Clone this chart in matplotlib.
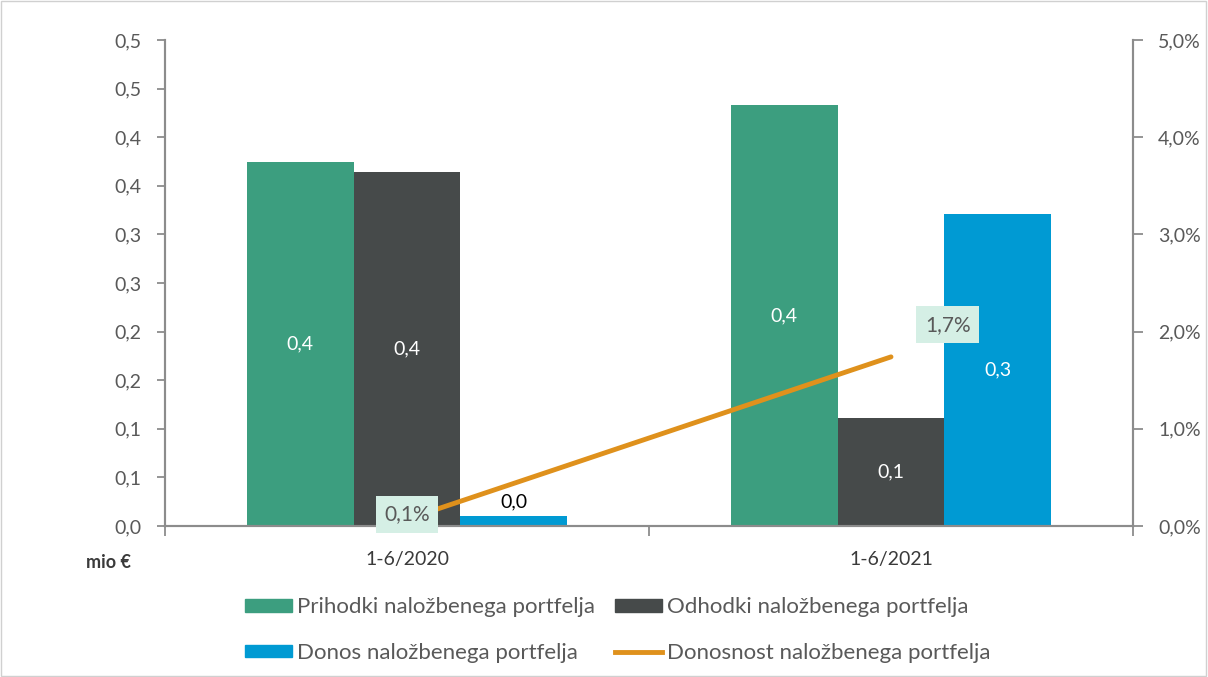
import matplotlib
matplotlib.use("Agg")
import matplotlib.pyplot as plt
from matplotlib.patches import Patch, Rectangle
from matplotlib.lines import Line2D
import numpy as np

plt.rcParams['font.family'] = ['Lato', 'DejaVu Sans']

categories = ["1-6/2020", "1-6/2021"]
prihodki = [0.375, 0.433]
odhodki = [0.364, 0.111]
donos = [0.010, 0.321]
donosnost = [0.07, 1.74]

prihodki_lbl = ["0,4", "0,4"]
odhodki_lbl = ["0,4", "0,1"]
donos_lbl = ["0,0", "0,3"]
donosnost_lbl = ["0,1%", "1,7%"]

left_ticks = [0.0, 0.05, 0.10, 0.15, 0.20, 0.25, 0.30, 0.35, 0.40, 0.45, 0.50]
left_tick_labels = ["0,0", "0,1", "0,1", "0,2", "0,2", "0,3", "0,3", "0,4", "0,4", "0,5", "0,5"]
right_ticks = [0, 1, 2, 3, 4, 5]
right_tick_labels = ["0,0%", "1,0%", "2,0%", "3,0%", "4,0%", "5,0%"]

series_names = ["Prihodki naložbenega portfelja", "Odhodki naložbenega portfelja",
                "Donos naložbenega portfelja", "Donosnost naložbenega portfelja"]

C_GREEN = "#3c9e7f"
C_GRAY = "#464a4a"
C_BLUE = "#009ad3"
C_ORANGE = "#df911c"
C_TEXT = "#595959"
C_AXIS = "#8c8c8c"

fig = plt.figure(figsize=(12.08, 6.77), dpi=100)
ax = fig.add_axes([165/1208, 1-526/677, (1133-165)/1208, (526-40)/677])
ax2 = ax.twinx()

x = np.arange(len(categories))
w = 0.2206
b1 = ax.bar(x - w, prihodki, w, color=C_GREEN, zorder=2)
b2 = ax.bar(x, odhodki, w, color=C_GRAY, zorder=2)
b3 = ax.bar(x + w, donos, w, color=C_BLUE, zorder=2)

fs = 14
for bars, lbls in ((b1, prihodki_lbl), (b2, odhodki_lbl)):
    for r, l in zip(bars, lbls):
        ax.text(r.get_x() + r.get_width()/2, r.get_height()/2, l, ha='center', va='center',
                color='white', fontsize=fs)
for r, l in zip(b3, donos_lbl):
    h = r.get_height()
    if h < 0.05:
        ax.text(r.get_x() + r.get_width()/2, h + 0.006, l, ha='center', va='bottom',
                color='black', fontsize=fs)
    else:
        ax.text(r.get_x() + r.get_width()/2, h/2, l, ha='center', va='center',
                color='white', fontsize=fs)

ax.set_xlim(-0.5, 1.5)
ax.set_ylim(0, 0.5)
ax.set_yticks(left_ticks)
ax.set_yticklabels(left_tick_labels)
ax2.set_ylim(0, 5)
ax2.set_yticks(right_ticks)
ax2.set_yticklabels(right_tick_labels)

ax2.plot(x, donosnost, color=C_ORANGE, lw=3.5, solid_capstyle='round', zorder=3)
bbox = dict(boxstyle='square,pad=0.4', fc='#d5efe5', ec='none')
ax2.text(x[0], donosnost[0] + 0.05, donosnost_lbl[0], ha='center', va='center',
         color=C_TEXT, fontsize=fs + 1, bbox=bbox, zorder=4)
ax2.text(x[1] + 0.117, donosnost[1] + 0.33, donosnost_lbl[1], ha='center', va='center',
         color=C_TEXT, fontsize=fs + 1, bbox=bbox, zorder=4)

for a in (ax, ax2):
    a.spines['top'].set_visible(False)
    for s in ('left', 'right', 'bottom'):
        a.spines[s].set_color(C_AXIS)
        a.spines[s].set_linewidth(1.5)
ax.tick_params(axis='y', colors=C_AXIS, labelcolor=C_TEXT, labelsize=fs, length=6, width=1.3, pad=11)
ax2.tick_params(axis='y', colors=C_AXIS, labelcolor=C_TEXT, labelsize=fs, length=7, width=1.3, pad=11)

ax.set_xticks([-0.5, 0.5, 1.5])
ax.set_xticklabels([])
ax.tick_params(axis='x', colors=C_AXIS, length=7, width=1.3, direction='out')
for xi, c in zip(x, categories):
    ax.text(xi, -34/486, c, transform=ax.get_xaxis_transform(), ha='center', va='center',
            color='#3a3a3a', fontsize=fs)

ax.text((108-165)/968, -37/486, "mio €", transform=ax.transAxes, ha='center', va='center',
        fontsize=13, fontweight='bold', color='#3a3a3a')

handles = [Patch(color=C_GREEN), Patch(color=C_BLUE), Patch(color=C_GRAY),
           Line2D([], [], color=C_ORANGE, lw=3.5)]
labels = [series_names[0], series_names[2], series_names[1], series_names[3]]
leg = fig.legend(handles, labels, ncol=2, loc='center', bbox_to_anchor=(618/1208, 1-630/677),
                 frameon=False, fontsize=16, handlelength=2.1, handleheight=0.5,
                 handletextpad=0.25, columnspacing=0.9, labelspacing=1.15)
for t in leg.get_texts():
    t.set_color(C_TEXT)

fig.patches.append(Rectangle((0.001, 0.001), 0.997, 0.997, transform=fig.transFigure,
                             fill=False, ec='#d0d0d0', lw=1))

fig.savefig("out.png", dpi=100)
